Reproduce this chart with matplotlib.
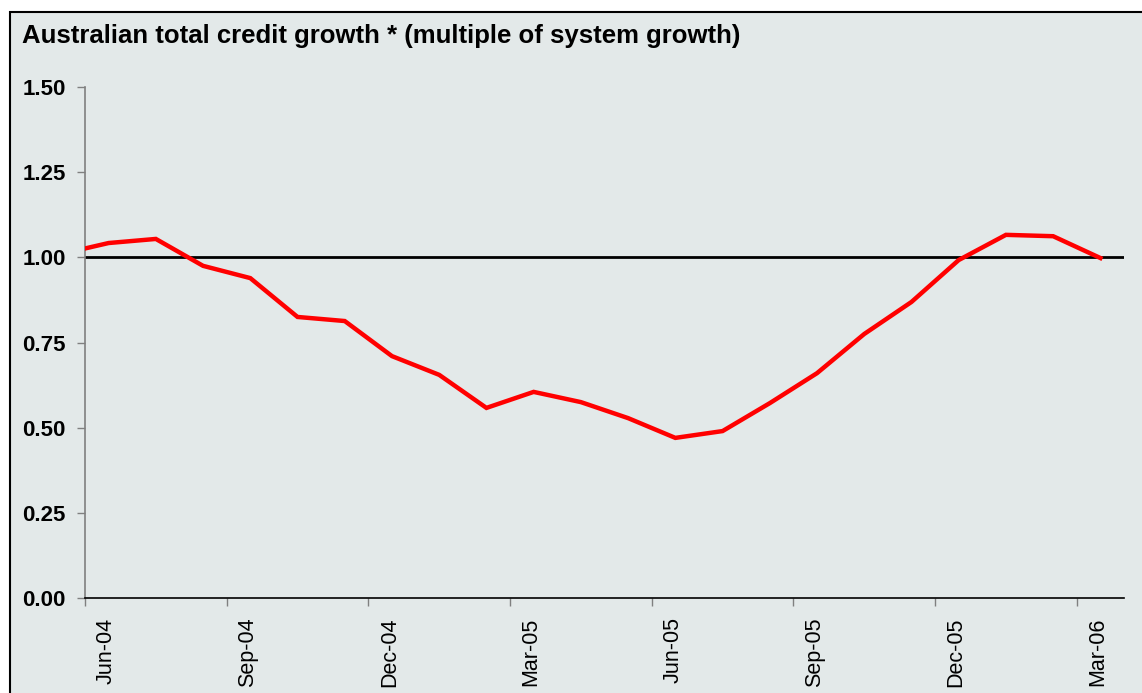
import matplotlib
matplotlib.use("Agg")
import matplotlib.pyplot as plt
from matplotlib.patches import Rectangle
from matplotlib.transforms import ScaledTranslation

plt.rcParams['font.family'] = ['Liberation Sans', 'DejaVu Sans']

# months since Jun-04, values plotted mid-month
months = [-0.5, 0.5, 1.5, 2.5, 3.5, 4.5, 5.5, 6.5, 7.5, 8.5, 9.5, 10.5,
          11.5, 12.5, 13.5, 14.5, 15.5, 16.5, 17.5, 18.5, 19.5, 20.5, 21.5]
credit_multiple = [1.01, 1.042, 1.054, 0.975, 0.939, 0.825, 0.813, 0.710,
                   0.655, 0.558, 0.605, 0.575, 0.528, 0.470, 0.490, 0.572,
                   0.660, 0.775, 0.869, 0.992, 1.066, 1.062, 0.998]
tick_pos = [0, 3, 6, 9, 12, 15, 18, 21]
tick_labels = ['Jun-04', 'Sep-04', 'Dec-04', 'Mar-05', 'Jun-05', 'Sep-05',
               'Dec-05', 'Mar-06']
y_ticks = [0.0, 0.25, 0.5, 0.75, 1.0, 1.25, 1.5]

W, H = 1142, 693
bg = '#e3e9e9'
fig = plt.figure(figsize=(W / 100, H / 100), dpi=100)
fig.patch.set_facecolor('white')
fig.patches.append(Rectangle((9.5 / W, -0.1), 1.2, 1 - 12.5 / H + 0.1,
                             transform=fig.transFigure, facecolor=bg,
                             edgecolor='black', linewidth=1.5, zorder=-1))

ax = fig.add_axes([85 / W, 1 - 598 / H, (1124 - 85) / W, (598 - 87) / H])
ax.set_facecolor(bg)
ax.patch.set_alpha(0)

ax.axhline(1.0, color='black', lw=2, zorder=2)
ax.plot(months, credit_multiple, color='#ff0000', lw=3.2, zorder=3,
        solid_joinstyle='miter')

ax.set_xlim(0, 22)
ax.set_ylim(0, 1.5)
ax.set_yticks(y_ticks)
ax.set_yticklabels(['%.2f' % v for v in y_ticks], fontsize=16,
                   fontweight='bold')
ax.set_xticks(tick_pos)
ax.set_xticklabels(tick_labels, rotation=90, fontsize=15.5)

for s in ['top', 'right']:
    ax.spines[s].set_visible(False)
ax.spines['left'].set_color('#808080')
ax.spines['left'].set_linewidth(1.2)
ax.spines['bottom'].set_color('black')
ax.spines['bottom'].set_linewidth(1.2)
ax.tick_params(axis='y', length=6, width=1, color='#808080', pad=8)
ax.tick_params(axis='x', length=6, width=1, color='#808080', pad=8)

# month labels sit a little to the right of their tick
shift = ScaledTranslation(21 / 100, 0, fig.dpi_scale_trans)
for lbl in ax.get_xticklabels():
    lbl.set_transform(lbl.get_transform() + shift)

fig.text(22 / W, 1 - 43 / H, 'Australian total credit growth * (multiple of system growth)',
         fontsize=18.5, fontweight='bold', va='baseline', ha='left')

fig.savefig('out.png', dpi=100, facecolor=fig.get_facecolor())
